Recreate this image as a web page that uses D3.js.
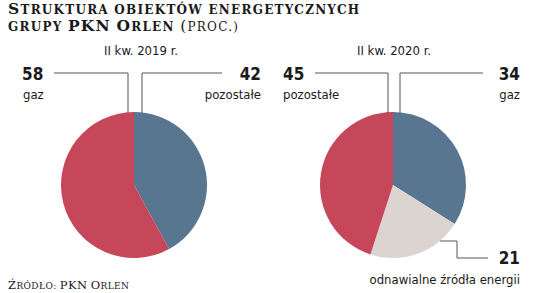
<!DOCTYPE html>
<html><head><meta charset="utf-8">
<script src="https://cdn.jsdelivr.net/npm/d3@7"></script>
<style>
body{margin:0;background:#fff;}
svg{display:block;}
.num{font-family:"DejaVu Sans",sans-serif;font-stretch:condensed;font-weight:bold;font-size:17px;fill:#1a1a1a;}
.lab{font-family:"DejaVu Sans",sans-serif;font-stretch:condensed;font-size:13px;fill:#1a1a1a;}
.sub{font-family:"DejaVu Sans",sans-serif;font-stretch:condensed;font-size:13px;fill:#1a1a1a;}
.title{font-family:"DejaVu Serif","Liberation Serif",serif;font-weight:bold;fill:#1a1a1a;letter-spacing:1.25px;}
.src{font-family:"DejaVu Serif","Liberation Serif",serif;fill:#1a1a1a;letter-spacing:0.4px;}
</style></head>
<body>
<script>
const years = ["II kw. 2019 r.", "II kw. 2020 r."];
const categories2019 = ["pozostałe", "gaz"];
const values2019 = [42, 58];
const categories2020 = ["gaz", "odnawialne źródła energii", "pozostałe"];
const values2020 = [34, 21, 45];
const colorMap = {"gaz2019":"#c6465a","pozostałe2019":"#587690","gaz2020":"#587690","odnawialne źródła energii2020":"#dcd4d1","pozostałe2020":"#c6465a"};

const W = 536, H = 293;
const svg = d3.select("body").append("svg").attr("width", W).attr("height", H);

// manual small caps: uppercase letters at big size, others uppercased at small size
function smallCaps(textSel, str, big, small, weight){
  const re = /([A-ZĄĆĘŁŃÓŚŹŻ(]+)|([^A-ZĄĆĘŁŃÓŚŹŻ(]+)/g;
  let m;
  while((m = re.exec(str))){
    const isBig = !!m[1];
    const ts = textSel.append("tspan").attr("font-size", isBig ? big : small).text(m[0].toUpperCase());
    if(weight) ts.attr("font-weight", weight);
  }
}

const t = svg.append("text").attr("class","title").attr("x",8).attr("y",14);
smallCaps(t, "Struktura obiektów energetycznych", 15.5, 12);
const t2 = svg.append("text").attr("class","title").attr("x",8).attr("y",31);
smallCaps(t2, "grupy PKN Orlen ", 15.5, 12);
smallCaps(t2, "(proc.)", 15.5, 12, "normal");

const s = svg.append("text").attr("class","src").attr("x",8).attr("y",289);
smallCaps(s, "Źródło: PKN Orlen", 11.5, 9);

const R = 73;
const pie = d3.pie().sort(null).value(d => d.v);
const arc = d3.arc().innerRadius(0).outerRadius(R);

function drawPie(cx, cy, cats, vals, yr){
  const data = cats.map((c,i)=>({c, v: vals[i]}));
  const g = svg.append("g").attr("transform",`translate(${cx},${cy})`);
  g.selectAll("path").data(pie(data)).join("path")
    .attr("d", arc).attr("fill", d => colorMap[d.data.c + yr]);
}

const line = d3.line();
const ls = (pts) => svg.append("path").attr("d", line(pts)).attr("fill","none").attr("stroke","#555").attr("stroke-width",1);

// 2019
const c1 = {x:134, y:185};
svg.append("text").attr("class","sub").attr("x",c1.x+7).attr("y",55).attr("text-anchor","middle").text(years[0]);
drawPie(c1.x, c1.y, categories2019, values2019, "2019");
ls([[54,73],[128,73],[128,113]]);
ls([[222,73],[142,73],[142,113]]);
svg.append("text").attr("class","num").attr("x",22).attr("y",80).text(values2019[1]);
svg.append("text").attr("class","lab").attr("x",23).attr("y",99).text(categories2019[1]);
svg.append("text").attr("class","num").attr("x",261).attr("y",80).attr("text-anchor","end").text(values2019[0]);
svg.append("text").attr("class","lab").attr("x",261).attr("y",99).attr("text-anchor","end").text(categories2019[0]);

// 2020
const c2 = {x:393, y:185};
svg.append("text").attr("class","sub").attr("x",c2.x+1).attr("y",55).attr("text-anchor","middle").text(years[1]);
drawPie(c2.x, c2.y, categories2020, values2020, "2020");
ls([[315,73],[388,73],[388,113]]);
ls([[483,73],[400,73],[400,113]]);
ls([[440,241],[457,241],[457,258],[488,258]]);
svg.append("text").attr("class","num").attr("x",283).attr("y",80).text(values2020[2]);
svg.append("text").attr("class","lab").attr("x",283).attr("y",99).text(categories2020[2]);
svg.append("text").attr("class","num").attr("x",520).attr("y",80).attr("text-anchor","end").text(values2020[0]);
svg.append("text").attr("class","lab").attr("x",520).attr("y",99).attr("text-anchor","end").text(categories2020[0]);
svg.append("text").attr("class","num").attr("x",520).attr("y",264).attr("text-anchor","end").text(values2020[1]);
svg.append("text").attr("class","lab").attr("x",520).attr("y",284).attr("text-anchor","end").text(categories2020[1]);
</script>
</body></html>
